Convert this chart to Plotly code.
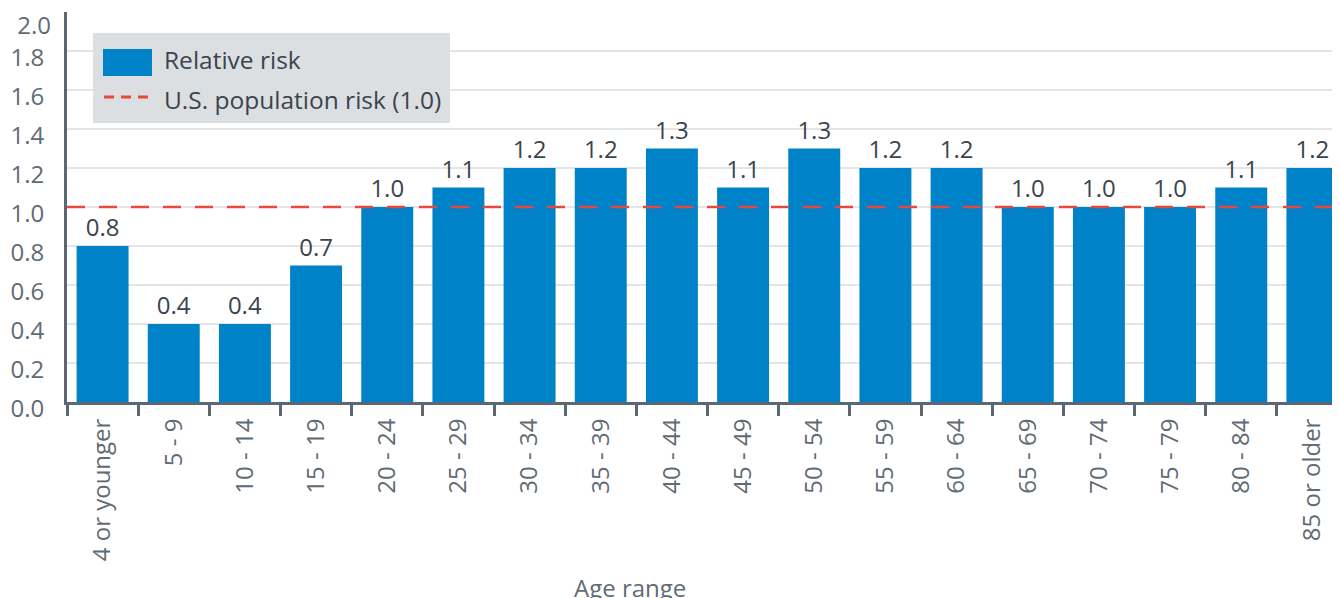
import plotly.graph_objects as go

# ---- data ----
age_ranges = ["4 or younger", "5 - 9", "10 - 14", "15 - 19", "20 - 24", "25 - 29",
              "30 - 34", "35 - 39", "40 - 44", "45 - 49", "50 - 54", "55 - 59",
              "60 - 64", "65 - 69", "70 - 74", "75 - 79", "80 - 84", "85 or older"]
relative_risk = [0.8, 0.4, 0.4, 0.7, 1.0, 1.1, 1.2, 1.2, 1.3, 1.1, 1.3, 1.2,
                 1.2, 1.0, 1.0, 1.0, 1.1, 1.2]
us_population_risk = 1.0
y_ticks = [0.0, 0.2, 0.4, 0.6, 0.8, 1.0, 1.2, 1.4, 1.6, 1.8, 2.0]

# ---- style ----
W, H = 1340, 598
OFF = 8                      # page body margin offset
ML, MT, MB, MR = 59, 4, 204, 0
PLOT_W = W - ML - MR
PLOT_H = H - MT - MB
FONT = "Open Sans"
BLUE = "#0082c8"
RED = "#e8473b"
AXIS = "#5b6873"
TICKTXT = "#5f6b75"
DARKTXT = "#3a444d"
Y_MAX = max(y_ticks)

def px_x(p):  # page pixel -> paper x
    return (p - OFF - ML) / PLOT_W

def px_y(p):  # page pixel -> paper y
    return (H - MB - (p - OFF)) / PLOT_H

fig = go.Figure()
fig.add_trace(go.Bar(
    x=age_ranges, y=relative_risk, marker_color=BLUE, marker_line_width=0,
    text=[f"{v:.1f}" for v in relative_risk], textposition="outside",
    textfont=dict(family=FONT, size=24, color=DARKTXT), cliponaxis=False,
    name="Relative risk", showlegend=False,
))
# invisible helper trace so the overlay axis (top tick label) is drawn
fig.add_trace(go.Scatter(
    x=[age_ranges[0]], y=[us_population_risk], yaxis="y2", mode="markers",
    marker=dict(opacity=0, size=1), hoverinfo="skip", showlegend=False,
))

# reference line
fig.add_shape(type="line", xref="paper", yref="y", x0=0, x1=1,
              y0=us_population_risk, y1=us_population_risk,
              line=dict(color=RED, width=2.5, dash="18px,14px"), layer="above")

# custom legend
fig.add_shape(type="rect", xref="paper", yref="paper",
              x0=px_x(93), x1=px_x(450), y0=px_y(123), y1=px_y(33),
              fillcolor="#dcdfe2", line_width=0, layer="above")
fig.add_shape(type="rect", xref="paper", yref="paper",
              x0=px_x(103), x1=px_x(152), y0=px_y(76), y1=px_y(49),
              fillcolor=BLUE, line_width=0, layer="above")
fig.add_shape(type="line", xref="paper", yref="paper",
              x0=px_x(104), x1=px_x(150), y0=px_y(97), y1=px_y(97),
              line=dict(color=RED, width=3, dash="10px,7px"), layer="above")
fig.add_annotation(text="Relative risk", xref="paper", yref="paper",
                   x=px_x(162), y=px_y(59), xanchor="left", yanchor="middle",
                   showarrow=False, font=dict(family=FONT, size=24.5, color=DARKTXT))
fig.add_annotation(text="U.S. population risk (1.0)", xref="paper", yref="paper",
                   x=px_x(162), y=px_y(99), xanchor="left", yanchor="middle",
                   showarrow=False, font=dict(family=FONT, size=24.5, color=DARKTXT))

# axis title
fig.add_annotation(text="Age range", xref="paper", yref="paper",
                   x=px_x(630), y=px_y(587), xanchor="center", yanchor="middle",
                   showarrow=False, font=dict(family=FONT, size=24, color=TICKTXT))

fig.update_layout(
    width=W, height=H,
    margin=dict(l=ML, r=MR, t=MT, b=MB, pad=0, autoexpand=False),
    paper_bgcolor="white", plot_bgcolor="white",
    bargap=0.27,
    font=dict(family=FONT, size=24, color=TICKTXT),
    showlegend=False,
)
fig.update_xaxes(
    type="category", range=[-0.5, len(age_ranges) - 0.5], automargin=False,
    tickangle=-90, tickson="boundaries", ticks="outside", ticklen=11, tickwidth=2.5,
    tickcolor=AXIS, showline=True, linecolor=AXIS, linewidth=3, showgrid=False,
    tickfont=dict(family=FONT, size=24, color=TICKTXT), ticklabelstandoff=4,
)
fig.update_layout(
    yaxis=dict(
        range=[0, Y_MAX + 0.0005], tickvals=y_ticks,
        ticktext=[f"{v:.1f}" if v < Y_MAX else "" for v in y_ticks],
        automargin=False,
        showline=True, linecolor=AXIS, linewidth=3, ticks="",
        showgrid=True, gridcolor="#e3e6e9", gridwidth=2, zeroline=False,
        tickfont=dict(family=FONT, size=24, color=TICKTXT), ticklabelstandoff=15,
        ticklabelshift=7, ticklabeloverflow="allow",
    ),
    yaxis2=dict(
        overlaying="y", side="left", range=[0, Y_MAX + 0.0005],
        tickvals=[Y_MAX], ticktext=[f"{Y_MAX:.1f}"], automargin=False,
        showline=False, ticks="", showgrid=False, zeroline=False,
        tickfont=dict(family=FONT, size=24, color=TICKTXT), ticklabelstandoff=15,
        ticklabelshift=13, ticklabeloverflow="allow",
    ),
)

fig.write_html("out.html")
